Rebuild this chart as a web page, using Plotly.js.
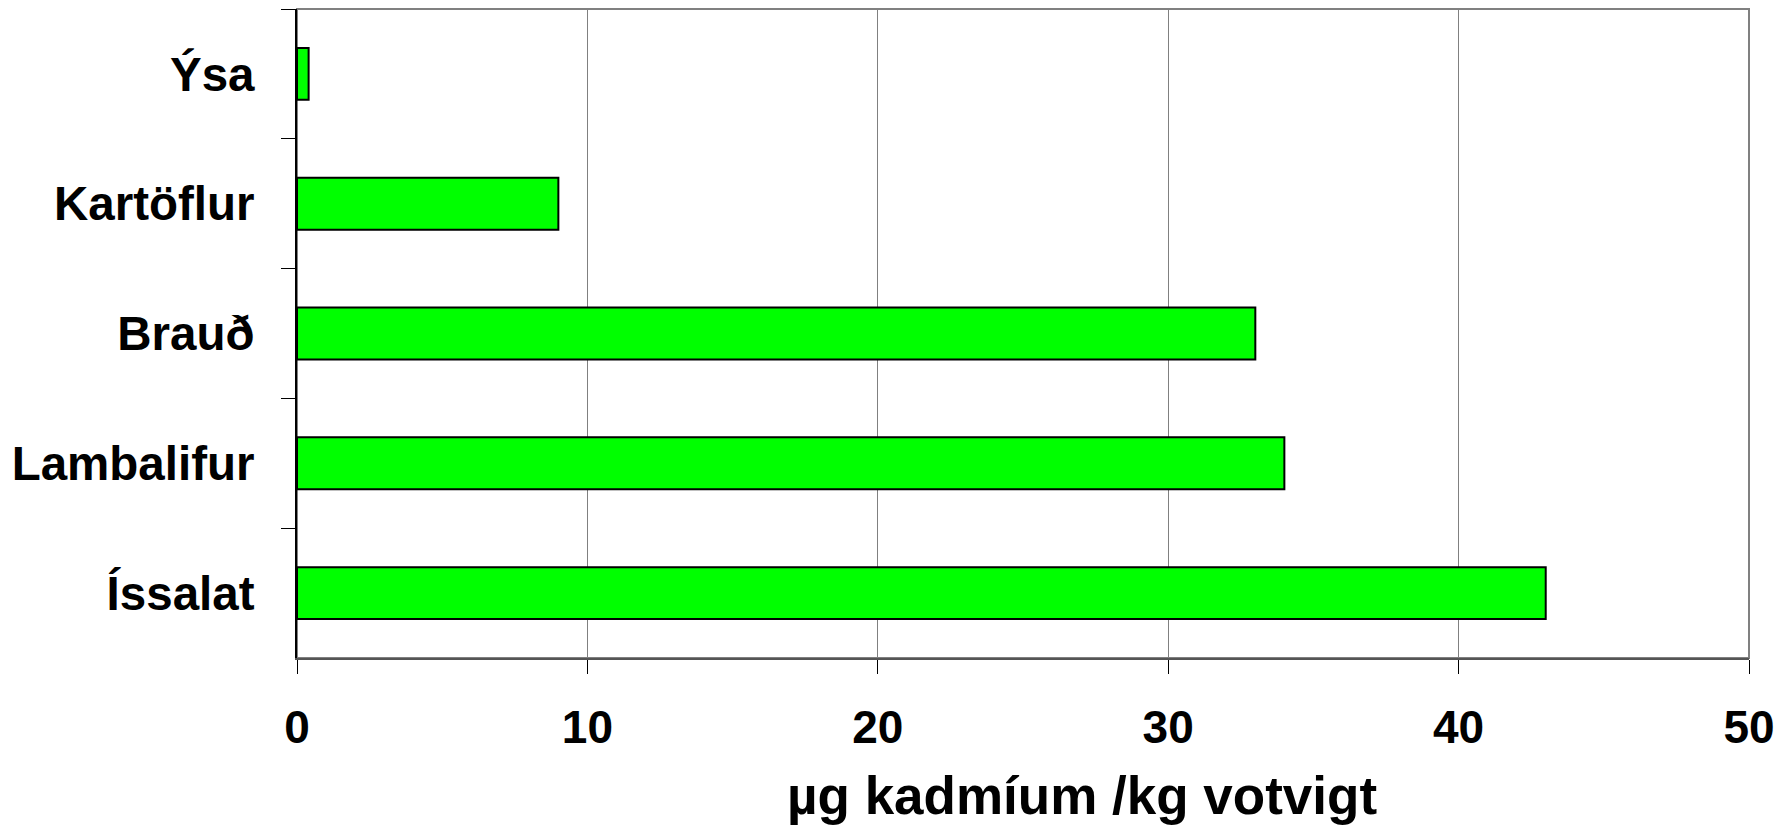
<!DOCTYPE html>
<html>
<head>
<meta charset="utf-8">
<script src="https://cdn.plot.ly/plotly-3.0.1.min.js"></script>
<style>html,body{margin:0;padding:0;background:#fff;}#chart{width:1792px;height:826px;}</style>
</head>
<body>
<div id="chart"></div>
<script>
// Data (top to bottom as shown)
const categories = ["Ýsa", "Kartöflur", "Brauð", "Lambalifur", "Íssalat"];
const values = [0.4, 9, 33, 34, 43];
const xTickValues = [0, 10, 20, 30, 40, 50];
const xTitle = "µg kadmíum /kg votvigt";

const FONT = "Liberation Sans, Arial, sans-serif";

const trace = {
  type: "bar",
  orientation: "h",
  y: categories,
  x: values,
  marker: { color: "#00FF00", line: { color: "#000000", width: 2 } },
  hoverinfo: "x+y"
};

const layout = {
  width: 1792,
  height: 826,
  paper_bgcolor: "#ffffff",
  plot_bgcolor: "#ffffff",
  margin: { l: 297, r: 43, t: 9, b: 168, pad: 0 },
  bargap: 0.6,
  showlegend: false,
  font: { family: FONT, color: "#000000" },
  xaxis: {
    range: [0, 50],
    tickvals: xTickValues,
    ticktext: xTickValues.map(String),
    ticks: "outside",
    ticklen: 14,
    tickwidth: 1,
    tickcolor: "#000000",
    ticklabelstandoff: 14,
    tickfont: { family: FONT, size: 46, color: "#000000", weight: "bold" },
    showgrid: true,
    gridcolor: "#808080",
    gridwidth: 1,
    zeroline: false,
    showline: true,
    linecolor: "#555555",
    linewidth: 2
  },
  yaxis: {
    type: "category",
    autorange: "reversed",
    ticks: "outside",
    tickson: "boundaries",
    ticklen: 14,
    tickwidth: 1,
    tickcolor: "#000000",
    ticklabelstandoff: 31,
    tickfont: { family: FONT, size: 47.5, color: "#000000", weight: "bold" },
    showgrid: false,
    zeroline: false,
    showline: true,
    linecolor: "#000000",
    linewidth: 2
  },
  annotations: [
    { text: "<b>" + xTitle + "</b>", xref: "paper", yref: "paper",
      x: 0.5406, y: -0.212, xanchor: "center", yanchor: "middle",
      showarrow: false, font: { family: FONT, size: 53, color: "#000000" } }
  ],
  shapes: [
    { type: "rect", xref: "paper", yref: "paper", x0: 0, x1: 1, y0: 0, y1: 1,
      line: { color: "#808080", width: 2 }, layer: "below" }
  ]
};

Plotly.newPlot("chart", [trace], layout, { displayModeBar: false, staticPlot: true });
</script>
</body>
</html>
